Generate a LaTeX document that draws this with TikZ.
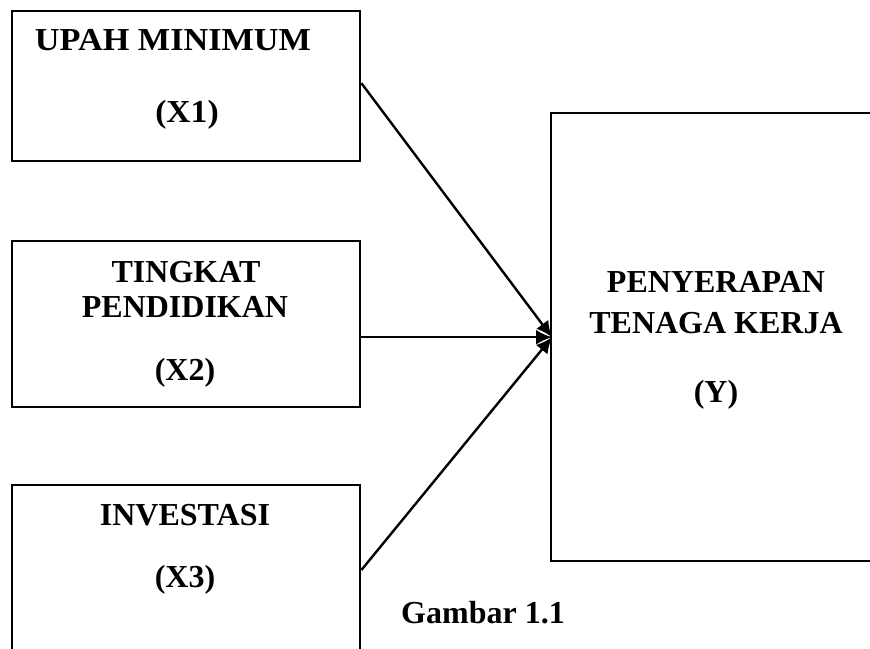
\documentclass[tikz,border=0pt]{standalone}
\usepackage{fontspec}
\setmainfont{Liberation Serif}
\usetikzlibrary{arrows.meta}
\tikzset{
  box/.style={draw=black, line width=2.4pt, rectangle, inner sep=0pt, anchor=north west},
  lbl/.style={font=\fontsize{32}{41}\selectfont\bfseries, anchor=base, inner sep=0pt},
  link/.style={line width=2.4pt, -{Latex[length=16pt,width=15pt]}}
}
\begin{document}
\begin{tikzpicture}[x=1pt,y=-1pt]
\useasboundingbox (0,0) rectangle (870,648);
% boxes
\node[box, minimum width=348pt, minimum height=150pt] (x1) at (11,10) {};
\node[box, minimum width=348pt, minimum height=166pt] (x2) at (11,240) {};
\node[box, minimum width=348pt, minimum height=200pt] (x3) at (11,484) {};
\node[box, minimum width=360pt, minimum height=448pt] (y) at (550,112) {};
% labels
\node[lbl] (t1a) at (173,50) {\scalebox{1.07}[1]{UPAH MINIMUM}};
\node[lbl] (t1b) at (187,122) {\scalebox{1.05}[1]{(X1)}};
\node[lbl] (t2a) at (186,282) {TINGKAT};
\node[lbl] (t2b) at (185,317) {PENDIDIKAN};
\node[lbl] (t2c) at (185,380) {(X2)};
\node[lbl] (t3a) at (185,525) {INVESTASI};
\node[lbl] (t3b) at (185,587) {(X3)};
\node[lbl] (tya) at (716,292) {PENYERAPAN};
\node[lbl] (tyb) at (716,333) {TENAGA KERJA};
\node[lbl] (tyc) at (716,402) {(Y)};
\node[lbl] (cap) at (483,623) {Gambar 1.1};
% connectors
\coordinate (x1p) at ([yshift=3pt]x1.east);
\coordinate (x3p) at ([yshift=-86pt]x3.north east);
\coordinate (yin) at ([xshift=2pt]y.west);
\draw[link] (x1p) -- (yin);
\draw[link] (x2.east |- y.west) -- (yin);
\draw[link] (x3p) -- (yin);
\end{tikzpicture}
\end{document}
